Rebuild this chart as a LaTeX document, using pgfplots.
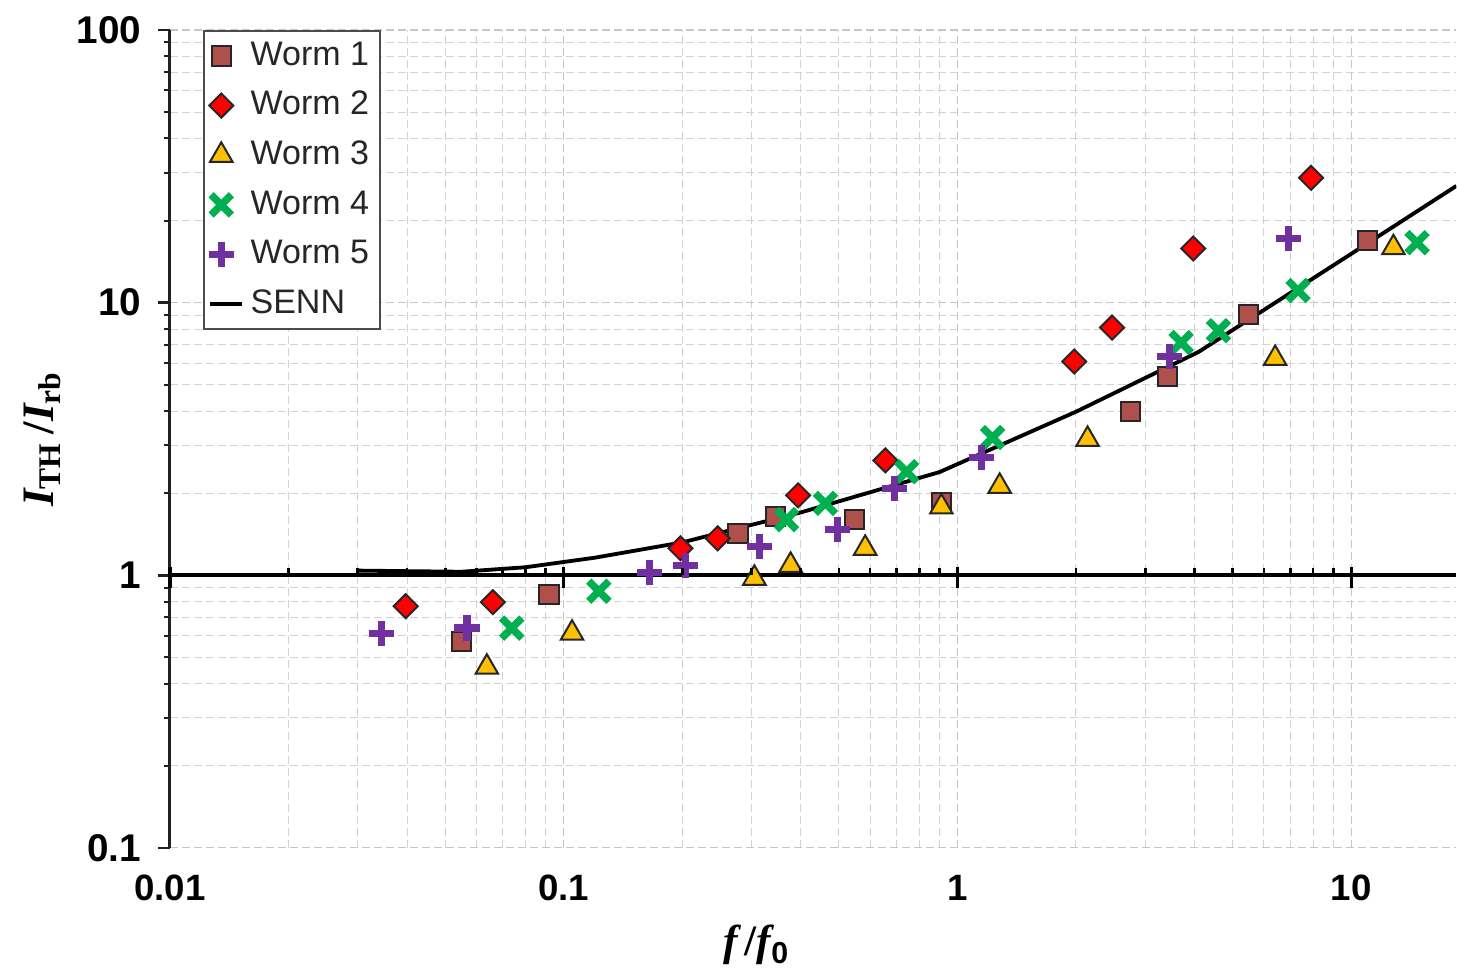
\documentclass[border=0pt]{standalone}
\usepackage{pgfplots}
\pgfplotsset{compat=1.18}
\usepackage{fontspec}
\setmainfont{Liberation Sans}
\newfontfamily\serifb{Liberation Serif}
\definecolor{wone}{RGB}{176,80,76}
\definecolor{wtwo}{RGB}{255,0,0}
\definecolor{wthree}{RGB}{255,192,0}
\definecolor{wfour}{RGB}{0,176,80}
\definecolor{wfive}{RGB}{112,48,160}
\begin{document}
\begin{tikzpicture}
\begin{axis}[name=main,
  xmode=log, ymode=log, scale only axis, width=386pt, height=245.4pt,
  xmin=0.01, xmax=18.5, ymin=0.1, ymax=100,
  xtick={0.01,0.1,1,10},
  minor xtick={0.02,0.03,0.04,0.05,0.06,0.07,0.08,0.09,0.2,0.3,0.4,0.5,0.6,0.7,0.8,0.9,2,3,4,5,6,7,8,9},
  axis y line*=left, axis x line*=bottom,
  x axis line style={draw=none},
  y axis line style={-, line width=0.9pt, gray!25!black},
  xticklabels={0.01,0.1,1,10},
  ytick={0.1,1,10,100}, yticklabels={0.1,1,10,100},
  minor ytick={0.2,0.3,0.4,0.5,0.6,0.7,0.8,0.9,2,3,4,5,6,7,8,9,20,30,40,50,60,70,80,90},
  every major x tick/.append style={draw=none},
  every minor x tick/.append style={draw=none},
  tick align=outside,
  major tick length=3.6pt, minor tick length=1.9pt,
  every major y tick/.append style={line width=0.8pt, gray!25!black},
  every minor y tick/.append style={line width=0.6pt, gray!25!black},
  grid=both,
  major grid style={gray!45, line width=0.35pt, dash pattern=on 2.4pt off 1.2pt},
  minor grid style={gray!35, line width=0.3pt, dash pattern=on 2.4pt off 1.2pt},
  tick label style={font=\fontsize{11}{13}\selectfont\bfseries},
  yticklabel style={font=\fontsize{11.6}{13}\selectfont\bfseries, xshift=-1.5pt},
  xticklabel style={yshift=-1pt},
  xlabel={{\serifb\bfseries\itshape f}\,{\serifb\bfseries/}{\serifb\bfseries\itshape f}{\bfseries\textsubscript{0}}},
  ylabel={{\serifb\bfseries\itshape I}{\serifb\bfseries\textsubscript{TH}}\,{\serifb\bfseries/}{\serifb\bfseries\itshape I}{\serifb\bfseries\textsubscript{rb}}},
  xlabel style={at={(axis description cs:0.456,-0.119)}, anchor=center, font=\fontsize{13}{15}\selectfont},
  ylabel style={at={(axis description cs:-0.0995,0.5)}, anchor=center, font=\fontsize{13.5}{15}\selectfont},
  legend style={at={(axis description cs:0.0256,1)}, anchor=north west,
    draw=gray!60!black, line width=0.7pt, fill=white,
    font=\fontsize{10.2}{12}\selectfont, row sep=2.3pt, inner sep=1.2pt,
    text=black!85},
  legend cell align=left,
]
\addplot[black, line width=1.1pt, forget plot] coordinates {(0.01,1) (18.5,1)};
\addplot[black, line width=1.15pt, forget plot] coordinates {
(0.03,1.04) (0.055,1.03) (0.08,1.07) (0.12,1.16) (0.2,1.32) (0.4,1.70) (0.9,2.39) (2,3.98) (4.1,6.6) (10,15.1) (18.5,26.8)};
\addplot[only marks, mark=square*, mark size=2.9pt, mark options={fill=wone, draw=black!85, line width=0.6pt}] coordinates {
(0.0551,0.573) (0.0917,0.852) (0.277,1.42) (0.345,1.64) (0.548,1.60) (0.91,1.85) (2.75,3.99) (3.41,5.36) (5.48,9.04) (10.98,16.9)};
\addlegendentry{Worm 1}
\addplot[only marks, mark=square*, mark size=2.55pt, mark options={rotate=45, fill=wtwo, draw=black!85, line width=0.6pt}] coordinates {
(0.0397,0.770) (0.0661,0.797) (0.198,1.256) (0.246,1.366) (0.394,1.964) (0.656,2.64) (1.98,6.08) (2.47,8.10) (3.97,15.8) (7.91,28.7)};
\addlegendentry{Worm 2}
\addplot[only marks, mark=triangle*, mark size=3.9pt, mark options={fill=wthree, draw=black!85, line width=0.6pt}] coordinates {
(0.0638,0.460) (0.105,0.613) (0.305,0.975) (0.377,1.088) (0.583,1.256) (0.91,1.78) (1.28,2.12) (2.14,3.15) (6.41,6.24) (12.8,15.9)};
\addlegendentry{Worm 3}
\addplot[only marks, mark=x, mark size=4.3pt, mark options={draw=wfour, line width=2.2pt}] coordinates {
(0.0738,0.640) (0.1228,0.874) (0.368,1.60) (0.462,1.835) (0.743,2.40) (1.228,3.20) (3.70,7.14) (4.60,7.89) (7.33,11.07) (14.7,16.6)};
\addlegendentry{Worm 4}
\addplot[only marks, mark=+, mark size=3.8pt, mark options={draw=wfive, line width=2.2pt}] coordinates {
(0.0344,0.613) (0.0568,0.640) (0.165,1.025) (0.204,1.088) (0.314,1.277) (0.495,1.474) (0.692,2.08) (1.15,2.71) (3.45,6.35) (6.92,17.2)};
\addlegendentry{Worm 5}
\addlegendimage{legend image code/.code={\draw[black, line width=1.1pt] (0.18cm,0cm) -- (0.52cm,0cm);}}
\addlegendentry{SENN}
\end{axis}
% ticks on the y=1 line (drawn over the grid)
\begin{axis}[
  xmode=log, ymode=log, scale only axis, width=386pt, height=245.4pt,
  xmin=0.01, xmax=18.5, ymin=0.1, ymax=100,
  xtick={0.01,0.1,1,10},
  minor xtick={0.02,0.03,0.04,0.05,0.06,0.07,0.08,0.09,0.2,0.3,0.4,0.5,0.6,0.7,0.8,0.9,2,3,4,5,6,7,8,9},
  axis x line=middle, axis y line=none,
  x axis line style={draw=none},
  xticklabels={},
  tick align=inside,
  major tick length=6.3pt, minor tick length=2.3pt,
  every major x tick/.append style={yshift=-3.9pt, line width=1pt, black},
  every minor x tick/.append style={line width=0.8pt, black},
]
\addplot[draw=none, forget plot] coordinates {(1,1)};
\end{axis}
\path ([xshift=-51pt,yshift=-37.2pt]main.south west) rectangle ([yshift=9pt]main.north east);
\end{tikzpicture}
\end{document}
